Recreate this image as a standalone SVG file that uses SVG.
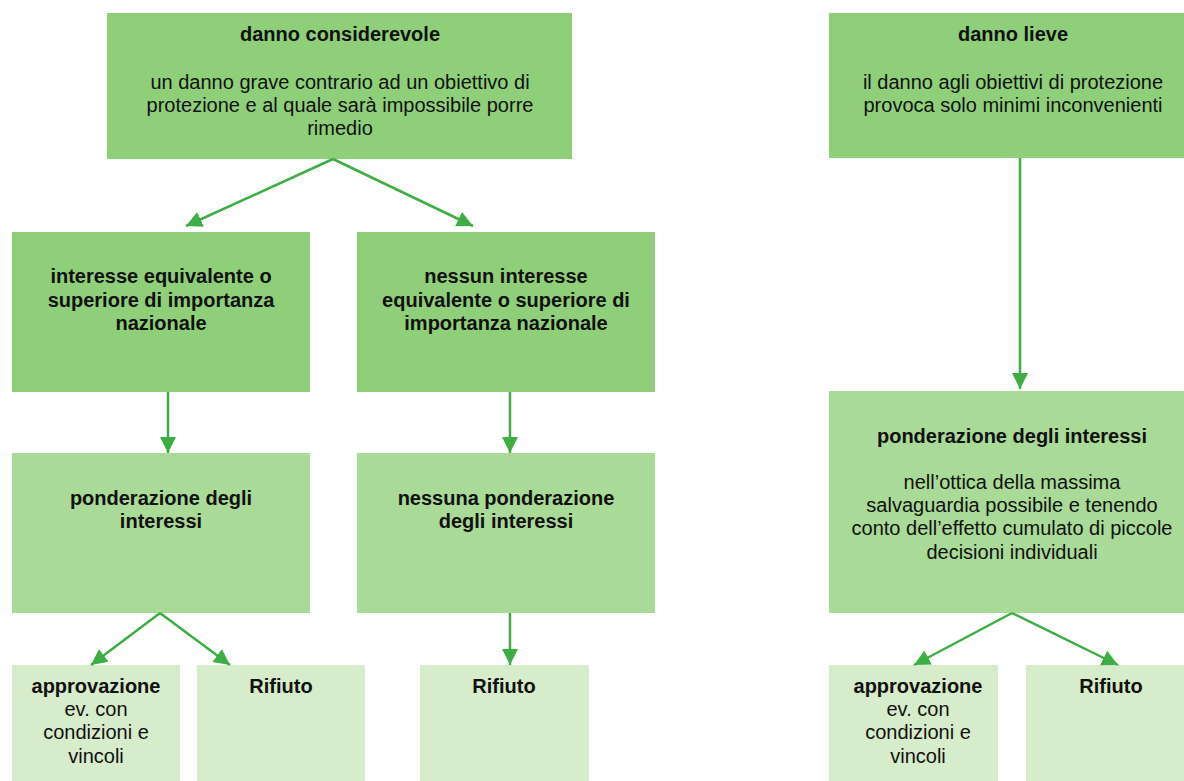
<svg xmlns="http://www.w3.org/2000/svg" width="1184" height="781" viewBox="0 0 1184 781">
<style>
.dark{fill:#8fcf7a}
.mid{fill:#a9da97}
.light{fill:#d6ecca}
text{font-family:"Liberation Sans",Arial,sans-serif;font-size:20px;fill:#111;text-anchor:middle}
.b{font-weight:bold}
.c{fill:none;stroke:#3dad44;stroke-width:2.5}
</style>
<defs>
<marker id="ah" markerUnits="userSpaceOnUse" markerWidth="18" markerHeight="18" viewBox="0 0 18 18" refX="16" refY="9" orient="auto">
<path d="M0,1 L16,9 L0,17 Z" fill="#3dad44"/>
</marker>
</defs>
<rect width="1184" height="781" fill="#fff"/>
<g id="n1">
<rect class="dark" x="107" y="13" width="465" height="146"/>
<text class="b" x="340" y="41">danno considerevole</text>
<text x="340" y="89">un danno grave contrario ad un obiettivo di</text>
<text x="340" y="112">protezione e al quale sarà impossibile porre</text>
<text x="340" y="135">rimedio</text>
</g>
<g id="n2">
<rect class="dark" x="12" y="232" width="298" height="160"/>
<text class="b" x="161" y="283">interesse equivalente o</text>
<text class="b" x="161" y="307">superiore di importanza</text>
<text class="b" x="161" y="330">nazionale</text>
</g>
<g id="n3">
<rect class="dark" x="357" y="232" width="298" height="160"/>
<text class="b" x="506" y="283">nessun interesse</text>
<text class="b" x="506" y="307">equivalente o superiore di</text>
<text class="b" x="506" y="330">importanza nazionale</text>
</g>
<g id="n4">
<rect class="mid" x="12" y="453" width="298" height="160"/>
<text class="b" x="161" y="505">ponderazione degli</text>
<text class="b" x="161" y="528">interessi</text>
</g>
<g id="n5">
<rect class="mid" x="357" y="453" width="298" height="160"/>
<text class="b" x="506" y="505">nessuna ponderazione</text>
<text class="b" x="506" y="528">degli interessi</text>
</g>
<g id="n6">
<rect class="light" x="12" y="665" width="168" height="120"/>
<text class="b" x="96" y="693">approvazione</text>
<text x="96" y="716">ev. con</text>
<text x="96" y="739">condizioni e</text>
<text x="96" y="763">vincoli</text>
</g>
<g id="n7">
<rect class="light" x="197" y="665" width="168" height="120"/>
<text class="b" x="281" y="693">Rifiuto</text>
</g>
<g id="n8">
<rect class="light" x="420" y="665" width="169" height="120"/>
<text class="b" x="504" y="693">Rifiuto</text>
</g>
<g id="n9">
<rect class="dark" x="829" y="13" width="368" height="145"/>
<text class="b" x="1013" y="41">danno lieve</text>
<text x="1013" y="89">il danno agli obiettivi di protezione</text>
<text x="1013" y="112">provoca solo minimi inconvenienti</text>
</g>
<g id="n10">
<rect class="mid" x="829" y="391" width="368" height="222"/>
<text class="b" x="1012" y="443">ponderazione degli interessi</text>
<text x="1012" y="489">nell’ottica della massima</text>
<text x="1012" y="512">salvaguardia possibile e tenendo</text>
<text x="1012" y="535">conto dell’effetto cumulato di piccole</text>
<text x="1012" y="559">decisioni individuali</text>
</g>
<g id="n11">
<rect class="light" x="829" y="665" width="169" height="120"/>
<text class="b" x="918" y="693">approvazione</text>
<text x="918" y="716">ev. con</text>
<text x="918" y="739">condizioni e</text>
<text x="918" y="763">vincoli</text>
</g>
<g id="n12">
<rect class="light" x="1026" y="665" width="170" height="120"/>
<text class="b" x="1111" y="693">Rifiuto</text>
</g>
<g id="connectors">
<path class="c" d="M333,159 L186,226" marker-end="url(#ah)"/>
<path class="c" d="M333,159 L473,226" marker-end="url(#ah)"/>
<path class="c" d="M168,392 L168,453" marker-end="url(#ah)"/>
<path class="c" d="M510,392 L510,453" marker-end="url(#ah)"/>
<path class="c" d="M160,613 L91,665" marker-end="url(#ah)"/>
<path class="c" d="M160,613 L230,665" marker-end="url(#ah)"/>
<path class="c" d="M510,613 L510,665" marker-end="url(#ah)"/>
<path class="c" d="M1020,158 L1020,389" marker-end="url(#ah)"/>
<path class="c" d="M1012,613 L914,665" marker-end="url(#ah)"/>
<path class="c" d="M1012,613 L1118,665" marker-end="url(#ah)"/>
</g>
</svg>
